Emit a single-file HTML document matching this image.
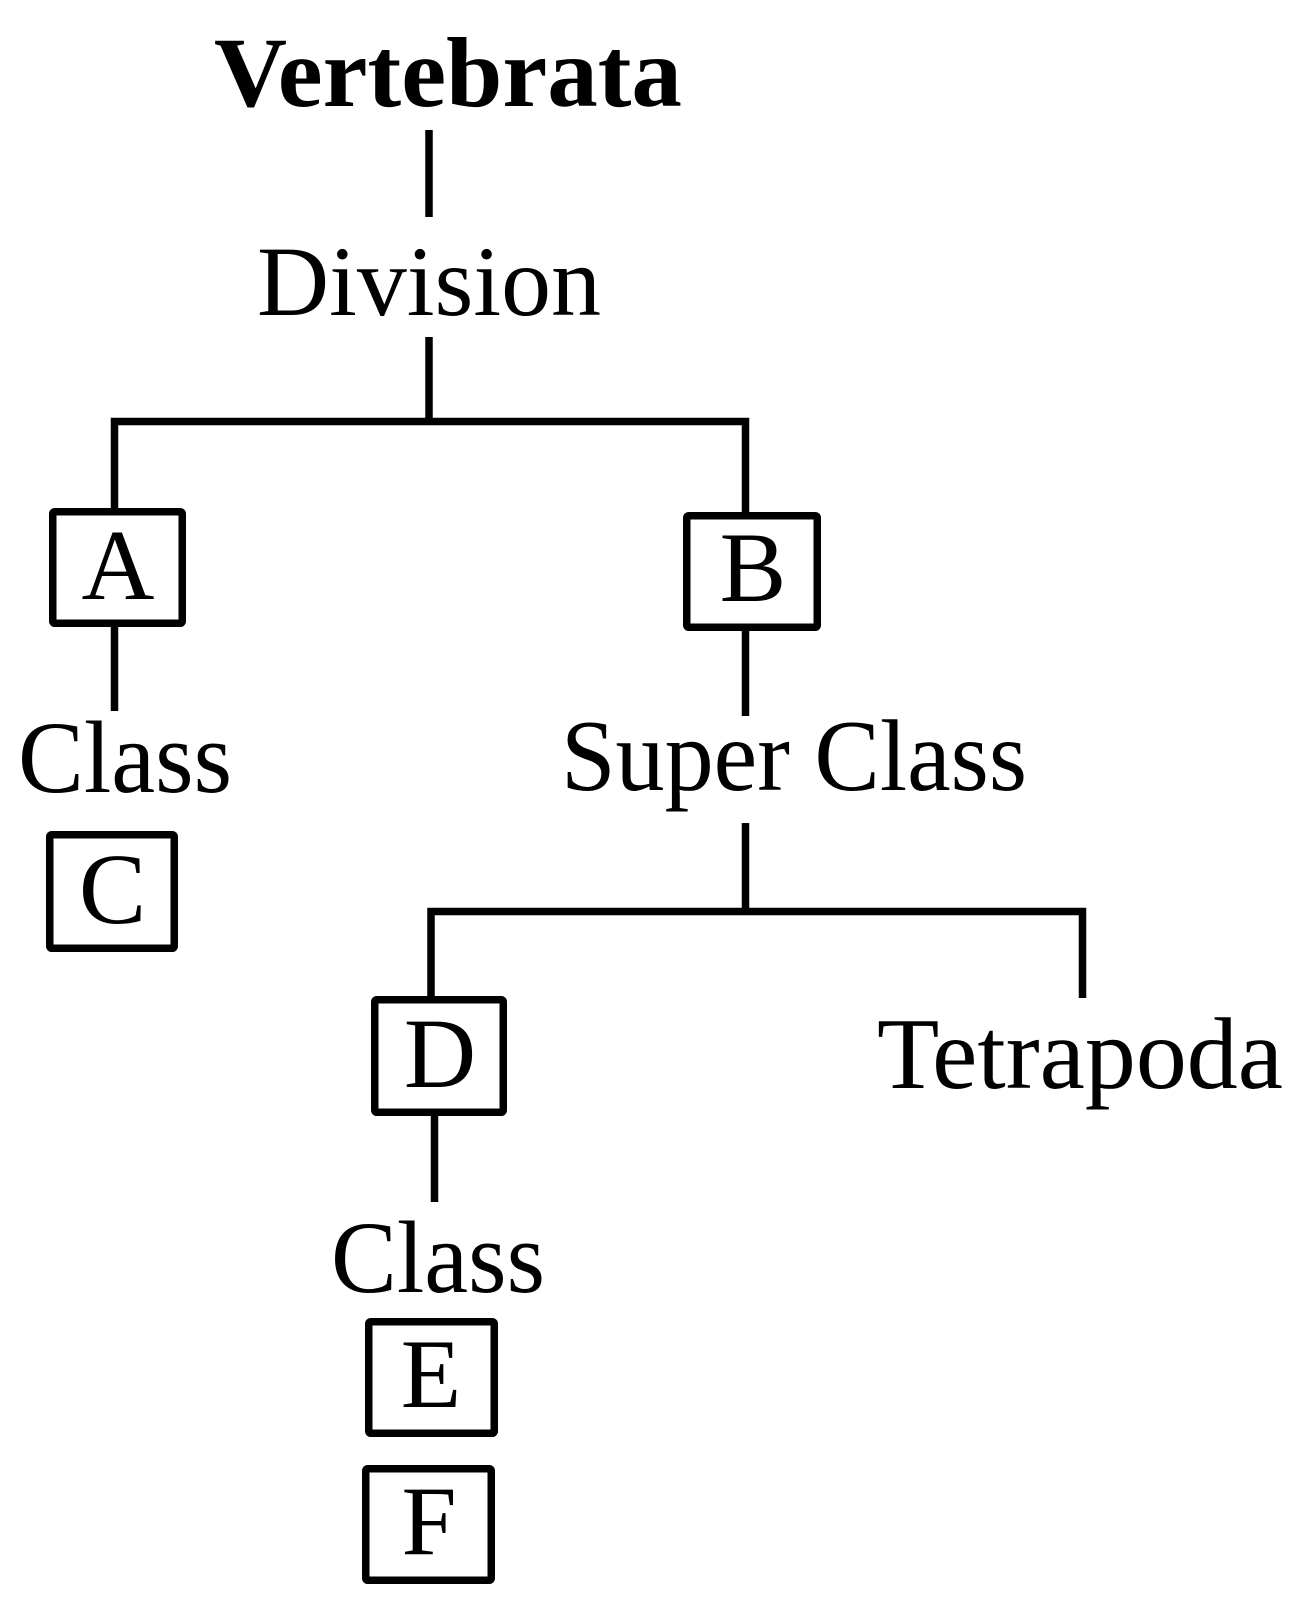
<!DOCTYPE html>
<html>
<head>
<meta charset="utf-8">
<style>
  html, body { margin: 0; padding: 0; background: #ffffff; }
  body { width: 1298px; height: 1609px; overflow: hidden; }
  svg { display: block; }
  text { font-family: "Liberation Serif", "Times New Roman", serif; fill: #000; }
</style>
</head>
<body>
<svg width="1298" height="1609" viewBox="0 0 1298 1609" xmlns="http://www.w3.org/2000/svg">
  <rect x="0" y="0" width="1298" height="1609" fill="#ffffff"/>

  <!-- Connectors -->
  <g stroke="#000" stroke-width="7.5" fill="none" stroke-linecap="butt" stroke-linejoin="miter">
    <line x1="429" y1="130" x2="429" y2="217"/>
    <line x1="429" y1="337" x2="429" y2="421"/>
    <polyline points="114.5,508 114.5,421.5 745.5,421.5 745.5,512"/>
    <line x1="114.5" y1="627" x2="114.5" y2="711"/>
    <line x1="745.5" y1="631" x2="745.5" y2="716"/>
    <line x1="745.5" y1="823" x2="745.5" y2="911"/>
    <polyline points="431,996 431,911.5 1082.5,911.5 1082.5,998"/>
    <line x1="434.5" y1="1116" x2="434.5" y2="1202"/>
  </g>

  <!-- Boxes -->
  <g stroke="#000" stroke-width="7.5" fill="#fff">
    <rect x="52.75" y="511.75" width="129.5" height="111.5" rx="2"/>
    <rect x="686.75" y="515.75" width="130.5" height="111.5" rx="2"/>
    <rect x="49.75" y="834.75" width="124.5" height="113.5" rx="2"/>
    <rect x="374.75" y="999.75" width="128.5" height="112.5" rx="2"/>
    <rect x="368.75" y="1321.75" width="125.5" height="111.5" rx="2"/>
    <rect x="365.75" y="1468.75" width="125.5" height="111.5" rx="2"/>
  </g>

  <!-- Labels -->
  <text x="214" y="106" font-size="100" font-weight="bold" textLength="468" lengthAdjust="spacingAndGlyphs">Vertebrata</text>
  <text x="257" y="315" font-size="100" textLength="344" lengthAdjust="spacingAndGlyphs">Division</text>

  <text x="118" y="599" font-size="101" text-anchor="middle">A</text>
  <text x="753" y="601" font-size="100" text-anchor="middle">B</text>

  <text x="18" y="792" font-size="103" textLength="214" lengthAdjust="spacingAndGlyphs">Class</text>
  <text x="561" y="790" font-size="102" textLength="466" lengthAdjust="spacingAndGlyphs">Super Class</text>

  <text x="112.5" y="923" font-size="101" text-anchor="middle">C</text>

  <text x="440" y="1087" font-size="100" text-anchor="middle">D</text>
  <text x="877" y="1088" font-size="102" textLength="406" lengthAdjust="spacingAndGlyphs">Tetrapoda</text>

  <text x="331" y="1292" font-size="103" textLength="214" lengthAdjust="spacingAndGlyphs">Class</text>

  <text x="431" y="1407" font-size="99" text-anchor="middle">E</text>
  <text x="429" y="1554" font-size="99" text-anchor="middle">F</text>
</svg>
</body>
</html>
